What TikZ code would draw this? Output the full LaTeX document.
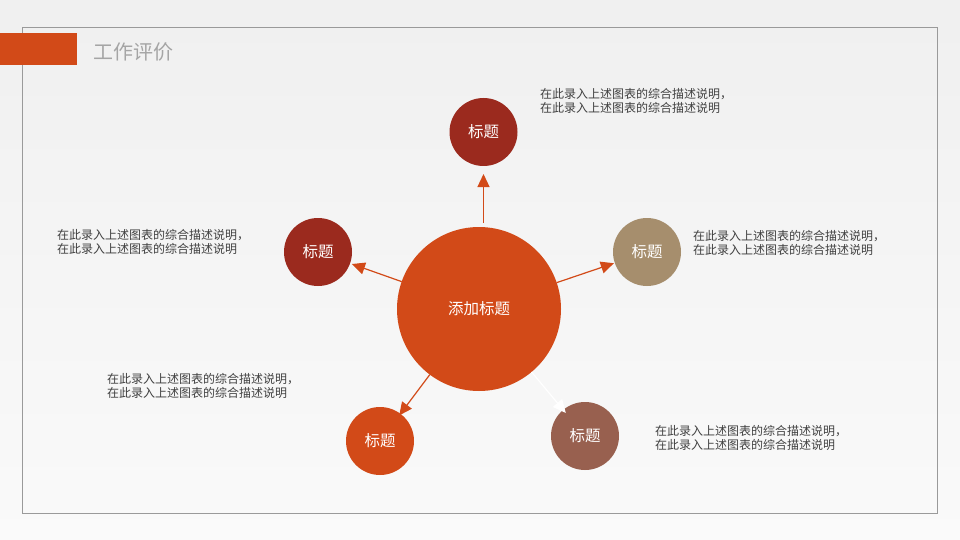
\documentclass[tikz,border=0pt]{standalone}
\usepackage{fontspec}
\setmainfont{Noto Sans CJK SC}
\usepackage{tikz}
\usetikzlibrary{positioning}
\usetikzlibrary{arrows.meta}
\definecolor{mainorange}{HTML}{D24A18}
\definecolor{darkred}{HTML}{9B2A1E}
\definecolor{tan}{HTML}{A68E6D}
\definecolor{brownish}{HTML}{98604F}
\definecolor{textgray}{HTML}{404040}
\definecolor{titlegray}{HTML}{A5A5A5}
\definecolor{framegray}{HTML}{9A9A9A}

\begin{document}
\begin{tikzpicture}[x=1pt,y=-1pt,every node/.style={inner sep=0,outer sep=0},
    bubble/.style={circle,minimum size=68pt,text=white,font=\fontsize{15.5}{18}\selectfont},
    note/.style={anchor=west,align=left,text=textgray,font=\fontsize{12}{14}\selectfont},
    link/.style={draw=mainorange,line width=1.2pt,-{Triangle[length=13pt,width=12pt]}}]
    \useasboundingbox (0,0) rectangle (960,540);
    \shade[top color=black!6,bottom color=black!2] (0,0) rectangle (960,540);
    \draw[framegray,line width=0.8pt] (22,27) rectangle (937,513);
    \fill[mainorange] (0,33) rectangle (77,65);
    \node (T0) [anchor=west,text=titlegray,font=\fontsize{20}{24}\selectfont] at (93,52) {工作评价};
    \node (C0) [circle,fill=mainorange,minimum size=164pt,text=white,font=\fontsize{15.5}{18}\selectfont] at (479,309) {添加标题};
    \node (C1) [bubble,fill=darkred] at (483.5,132) {标题};
    \node (C2) [bubble,fill=darkred] at (318,252) {标题};
    \node (C3) [bubble,fill=tan] at (647,252) {标题};
    \node (C4) [bubble,fill=mainorange] at (380,441) {标题};
    \node (C5) [bubble,fill=brownish] at (585,436) {标题};
    \node (N1) [note] at (540,101) {在此录入上述图表的综合描述说明，\\在此录入上述图表的综合描述说明};
    \node (N2) [note] at (57,242) {在此录入上述图表的综合描述说明，\\在此录入上述图表的综合描述说明};
    \node (N3) [note] at (693,243) {在此录入上述图表的综合描述说明，\\在此录入上述图表的综合描述说明};
    \node (N4) [note] at (107,386) {在此录入上述图表的综合描述说明，\\在此录入上述图表的综合描述说明};
    \node (N5) [note] at (655,438) {在此录入上述图表的综合描述说明，\\在此录入上述图表的综合描述说明};
    \path
        (C0.north -| C1) edge[link,shorten <=4pt,shorten >=8pt] (C1)
        (C0) edge[link,shorten >=2pt] (C2)
        (C0) edge[link,shorten >=1pt] (C3)
        (C0) edge[link,shorten >=-2pt] (C4)
        (C0) edge[link,draw=white,shorten >=-4pt] (C5);
\end{tikzpicture}
\end{document}
